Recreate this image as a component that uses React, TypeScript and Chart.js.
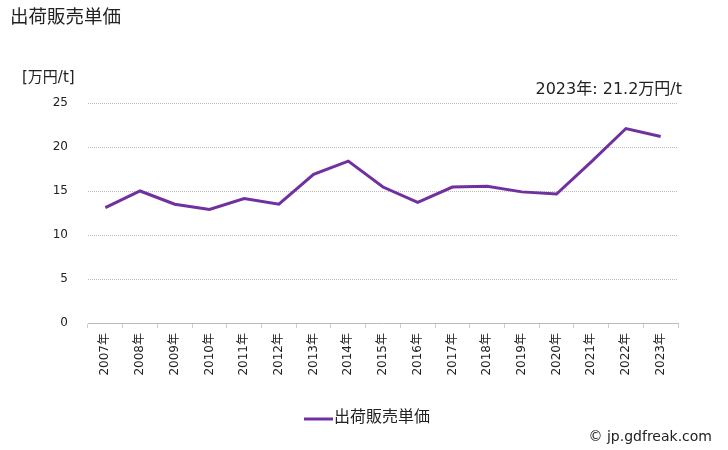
import React, { useEffect, useRef } from "react";
import { Chart, registerables } from "chart.js";

Chart.register(...registerables);

const categories = ["2007年","2008年","2009年","2010年","2011年","2012年","2013年","2014年","2015年","2016年","2017年","2018年","2019年","2020年","2021年","2022年","2023年"];
const priceValues = [13.1, 15.0, 13.5, 12.9, 14.15, 13.5, 16.9, 18.4, 15.45, 13.7, 15.45, 15.55, 14.9, 14.65, 18.3, 22.1, 21.2];
const yTicks = [0, 5, 10, 15, 20, 25];
const seriesName = "出荷販売単価";
const chartTitle = "出荷販売単価";
const unitLabel = "[万円/t]";
const latestLabel = "2023年: 21.2万円/t";
const copyright = "© jp.gdfreak.com";

const FONT = "'DejaVu Sans', 'Noto Sans CJK JP', sans-serif";
const LINE_COLOR = "#7030a0";

const textPlugin = {
  id: "texts",
  afterDraw(chart: any) {
    const ctx = chart.ctx;
    ctx.save();
    ctx.fillStyle = "#222";
    ctx.textBaseline = "middle";
    ctx.font = `18.5px ${FONT}`;
    ctx.textAlign = "left";
    ctx.fillText(chartTitle, 10, 18);
    ctx.font = `15px ${FONT}`;
    ctx.fillText(unitLabel, 22, 78);
    ctx.font = `16px ${FONT}`;
    ctx.textAlign = "right";
    ctx.fillText(latestLabel, 682, 90);
    // legend
    ctx.strokeStyle = LINE_COLOR;
    ctx.lineWidth = 3;
    ctx.beginPath();
    ctx.moveTo(304, 419);
    ctx.lineTo(333, 419);
    ctx.stroke();
    ctx.font = `16px ${FONT}`;
    ctx.textAlign = "left";
    ctx.fillText(seriesName, 334, 418);
    ctx.font = `14px ${FONT}`;
    ctx.textAlign = "right";
    ctx.fillText(copyright, 712, 437);
    ctx.restore();
  },
};

export default function App() {
  const ref = useRef<HTMLCanvasElement>(null);
  useEffect(() => {
    if (!ref.current) return;
    const chart = new Chart(ref.current, {
      type: "line",
      data: {
        labels: categories,
        datasets: [
          {
            label: seriesName,
            data: priceValues,
            borderColor: LINE_COLOR,
            backgroundColor: LINE_COLOR,
            borderWidth: 3,
            pointRadius: 0,
            tension: 0,
          },
        ],
      },
      options: {
        responsive: false,
        animation: false,
        layout: { padding: { left: 0, right: 50, top: 103, bottom: 0 } },
        plugins: {
          legend: { display: false },
          title: { display: false },
          tooltip: { enabled: false },
        },
        scales: {
          x: {
            offset: true,
            grid: {
              offset: true,
              drawOnChartArea: false,
              drawTicks: true,
              tickLength: 5,
              color: "#ccc",
            },
            border: { display: true, color: "#bbb", dash: [1, 1] },
            ticks: {
              autoSkip: false,
              minRotation: 90,
              maxRotation: 90,
              color: "#222",
              font: { size: 12, family: FONT },
              padding: 5,
            },
            afterFit(scale: any) {
              scale.height = 127;
            },
          },
          y: {
            min: 0,
            max: 25,
            afterBuildTicks(scale: any) {
              scale.ticks = yTicks.map((v) => ({ value: v }));
            },
            grid: {
              color: "#bbb",
              drawTicks: false,
            },
            border: { display: false, dash: [1, 1] },
            ticks: {
              color: "#222",
              font: { size: 12, family: FONT },
              padding: 20,
            },
            afterFit(scale: any) {
              scale.width = 88;
            },
          },
        },
      },
      plugins: [textPlugin],
    } as any);
    return () => chart.destroy();
  }, []);
  return (
    <div style={{ position: "fixed", left: 0, top: 0, width: 728, height: 450, background: "#fff" }}>
      <canvas ref={ref} width={728} height={450} />
    </div>
  );
}
